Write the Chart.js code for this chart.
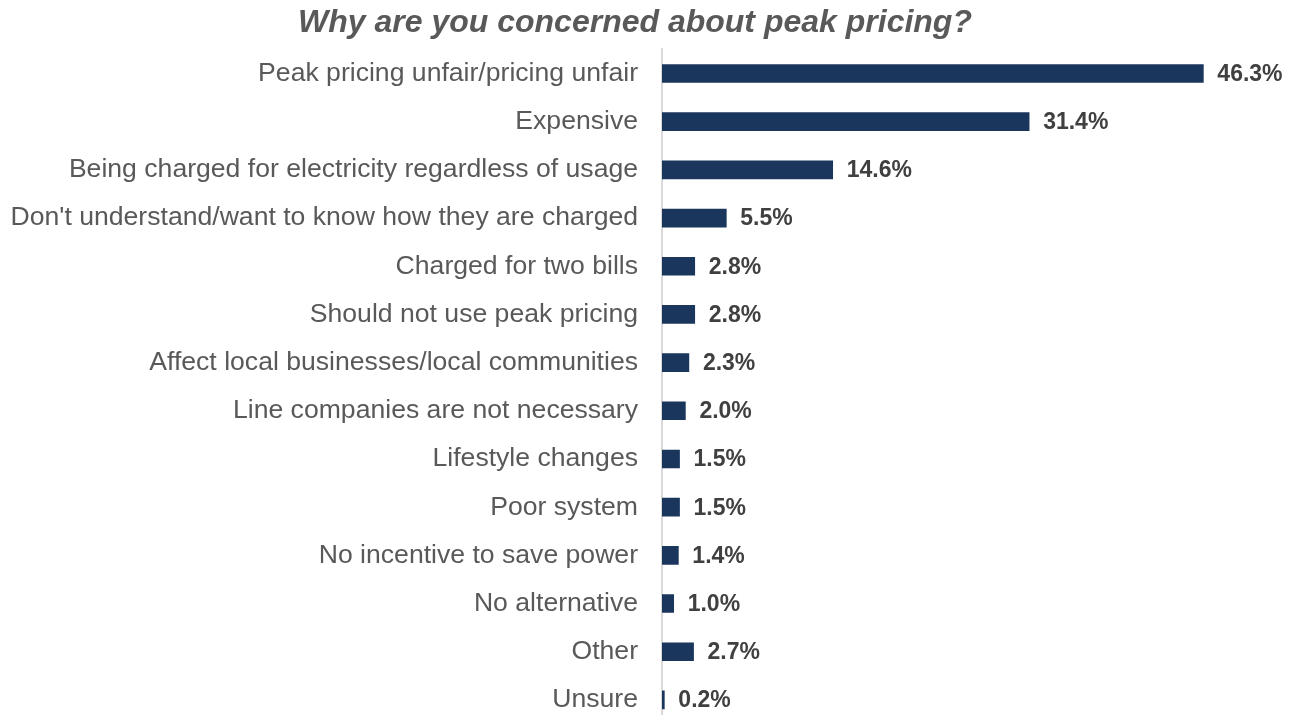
<!DOCTYPE html>
<html>
<head>
<meta charset="utf-8">
<title>Peak pricing concerns</title>
<script src="https://cdn.jsdelivr.net/npm/chart.js@4.4.1/dist/chart.umd.min.js"></script>
<style>
  html, body { margin: 0; padding: 0; background: #fff; overflow: hidden; }
  canvas { display: block; }
</style>
</head>
<body>
<canvas id="concernChart" width="1298" height="724"></canvas>
<script>
const categories = [
  'Peak pricing unfair/pricing unfair',
  'Expensive',
  'Being charged for electricity regardless of usage',
  "Don't understand/want to know how they are charged",
  'Charged for two bills',
  'Should not use peak pricing',
  'Affect local businesses/local communities',
  'Line companies are not necessary',
  'Lifestyle changes',
  'Poor system',
  'No incentive to save power',
  'No alternative',
  'Other',
  'Unsure'
];
const shares = [46.3, 31.4, 14.6, 5.5, 2.8, 2.8, 2.3, 2.0, 1.5, 1.5, 1.4, 1.0, 2.7, 0.2];

const FONT = '"Liberation Sans", Arial, sans-serif';

// writes the percentage just past the end of each bar
const valueLabels = {
  id: 'valueLabels',
  afterDatasetsDraw(chart) {
    const ctx = chart.ctx;
    const meta = chart.getDatasetMeta(0);
    ctx.save();
    ctx.font = 'bold 23px ' + FONT;
    ctx.fillStyle = '#404040';
    ctx.textAlign = 'left';
    ctx.textBaseline = 'middle';
    meta.data.forEach((bar, i) => {
      ctx.fillText(shares[i].toFixed(1) + '%', bar.x + 14, bar.y + 1);
    });
    ctx.restore();
  }
};

new Chart(document.getElementById('concernChart'), {
  type: 'bar',
  data: {
    labels: categories,
    datasets: [{
      data: shares,
      backgroundColor: '#1b365d',
      borderWidth: 0,
      barThickness: 18
    }]
  },
  options: {
    indexAxis: 'y',
    responsive: false,
    animation: false,
    layout: { padding: { left: 0, right: 28, top: 0, bottom: 0 } },
    plugins: {
      legend: { display: false },
      tooltip: { enabled: false },
      title: {
        display: true,
        text: 'Why are you concerned about peak pricing?',
        color: '#595959',
        font: { family: FONT, size: 32, weight: 'bold', style: 'italic' },
        padding: { top: 4, bottom: 7 }
      }
    },
    scales: {
      x: {
        display: false,
        min: 0,
        max: 52
      },
      y: {
        afterFit(scale) {
          // fixed label column; rows run the full height
          scale.width = 662;
          scale.paddingTop = 0;
          scale.paddingBottom = 0;
        },
        grid: { display: false, drawTicks: false },
        border: { display: true, color: '#d9d9d9', width: 2 },
        ticks: {
          color: '#595959',
          padding: 24,
          font: { family: FONT, size: 26.6 }
        }
      }
    }
  },
  plugins: [valueLabels]
});
</script>
</body>
</html>
